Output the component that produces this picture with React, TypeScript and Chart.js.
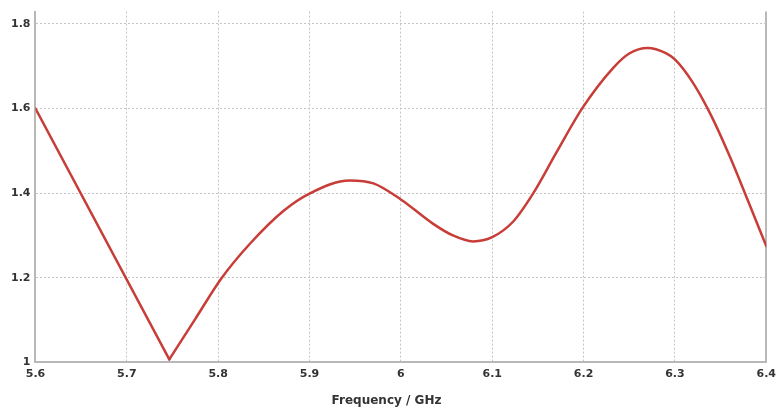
import React, { useEffect, useRef } from "react";
import { Chart, registerables } from "chart.js";

Chart.register(...registerables);

// Straight falling branch down to the sharp minimum
const frequencyFall = [5.6, 5.7465];
const vswrFall = [1.6, 1.007];
// Rising branch and smooth remainder of the curve
const frequency = [5.7465, 5.775, 5.804, 5.835, 5.872, 5.9, 5.944, 5.97, 6.0, 6.035, 6.057, 6.079, 6.1, 6.123, 6.145, 6.17, 6.199, 6.232, 6.25, 6.27, 6.29, 6.3, 6.32, 6.34, 6.36, 6.38, 6.4];
const vswr = [1.007, 1.103, 1.2, 1.281, 1.359, 1.399, 1.43, 1.423, 1.385, 1.328, 1.3, 1.286, 1.296, 1.333, 1.4, 1.495, 1.602, 1.695, 1.73, 1.743, 1.731, 1.716, 1.66, 1.582, 1.487, 1.382, 1.275];
const xTicks = [5.6, 5.7, 5.8, 5.9, 6.0, 6.1, 6.2, 6.3, 6.4];
const yTicks = [1.0, 1.2, 1.4, 1.6, 1.8];
const xTitle = "Frequency / GHz";

const FONT = "'DejaVu Sans', Verdana, sans-serif";
const LINE = "#c83d38";

export default function App() {
  const ref = useRef<HTMLCanvasElement | null>(null);
  useEffect(() => {
    document.body.style.margin = "0";
    const canvas = ref.current;
    if (!canvas) return;
    const chart = new Chart(canvas, {
      type: "line",
      data: {
        datasets: [
          {
            data: frequencyFall.map((f, i) => ({ x: f, y: vswrFall[i] })),
            borderColor: LINE,
            borderWidth: 2.5,
            pointRadius: 0,
            tension: 0,
            borderCapStyle: "round",
            fill: false,
          },
          {
            data: frequency.map((f, i) => ({ x: f, y: vswr[i] })),
            borderColor: LINE,
            borderWidth: 2.5,
            pointRadius: 0,
            cubicInterpolationMode: "monotone",
            borderCapStyle: "round",
            fill: false,
          },
        ],
      },
      options: {
        animation: false,
        responsive: true,
        maintainAspectRatio: false,
        layout: { padding: { left: 6, right: 14, top: 10, bottom: 0 } },
        plugins: {
          legend: { display: false },
          tooltip: { enabled: false },
          title: {
            display: true,
            text: xTitle,
            position: "bottom",
            color: "#333",
            font: { family: FONT, size: 12, weight: "bold" },
            padding: { top: 8, bottom: 4 },
          },
        },
        scales: {
          x: {
            type: "linear",
            min: 5.6,
            max: 6.4,
            afterBuildTicks: (scale: any) => {
              scale.ticks = xTicks.map((v) => ({ value: v }));
            },
            ticks: {
              color: "#333",
              font: { family: FONT, size: 11, weight: "bold" },
              padding: 5,
              maxRotation: 0,
              autoSkip: false,
              callback: (v: any) => String(Number(Number(v).toFixed(1))),
            },
            grid: {
              drawTicks: false,
              color: (ctx: any) => (ctx.tick && ctx.tick.value >= 6.399 ? "#b8b8b8" : "#c4c4c4"),
              lineWidth: (ctx: any) => (ctx.tick && ctx.tick.value >= 6.399 ? 2 : 1),
            },
            border: {
              color: "#b8b8b8",
              width: 2,
              dash: (ctx: any) => (ctx.tick && ctx.tick.value >= 6.399 ? [] : [2, 2]),
            },
          },
          y: {
            type: "linear",
            min: 1.0,
            max: 1.829,
            afterBuildTicks: (scale: any) => {
              scale.ticks = yTicks.map((v) => ({ value: v }));
            },
            ticks: {
              color: "#333",
              font: { family: FONT, size: 11, weight: "bold" },
              padding: 5,
              autoSkip: false,
              callback: (v: any) => String(Number(Number(v).toFixed(1))),
            },
            grid: {
              drawTicks: false,
              color: "#c4c4c4",
              lineWidth: 1,
            },
            border: {
              color: "#b8b8b8",
              width: 2,
              dash: [2, 2],
            },
          },
        },
      } as any,
    });
    return () => chart.destroy();
  }, []);
  return (
    <div style={{ position: "relative", width: 781, height: 412, background: "#fff" }}>
      <canvas ref={ref} />
    </div>
  );
}
